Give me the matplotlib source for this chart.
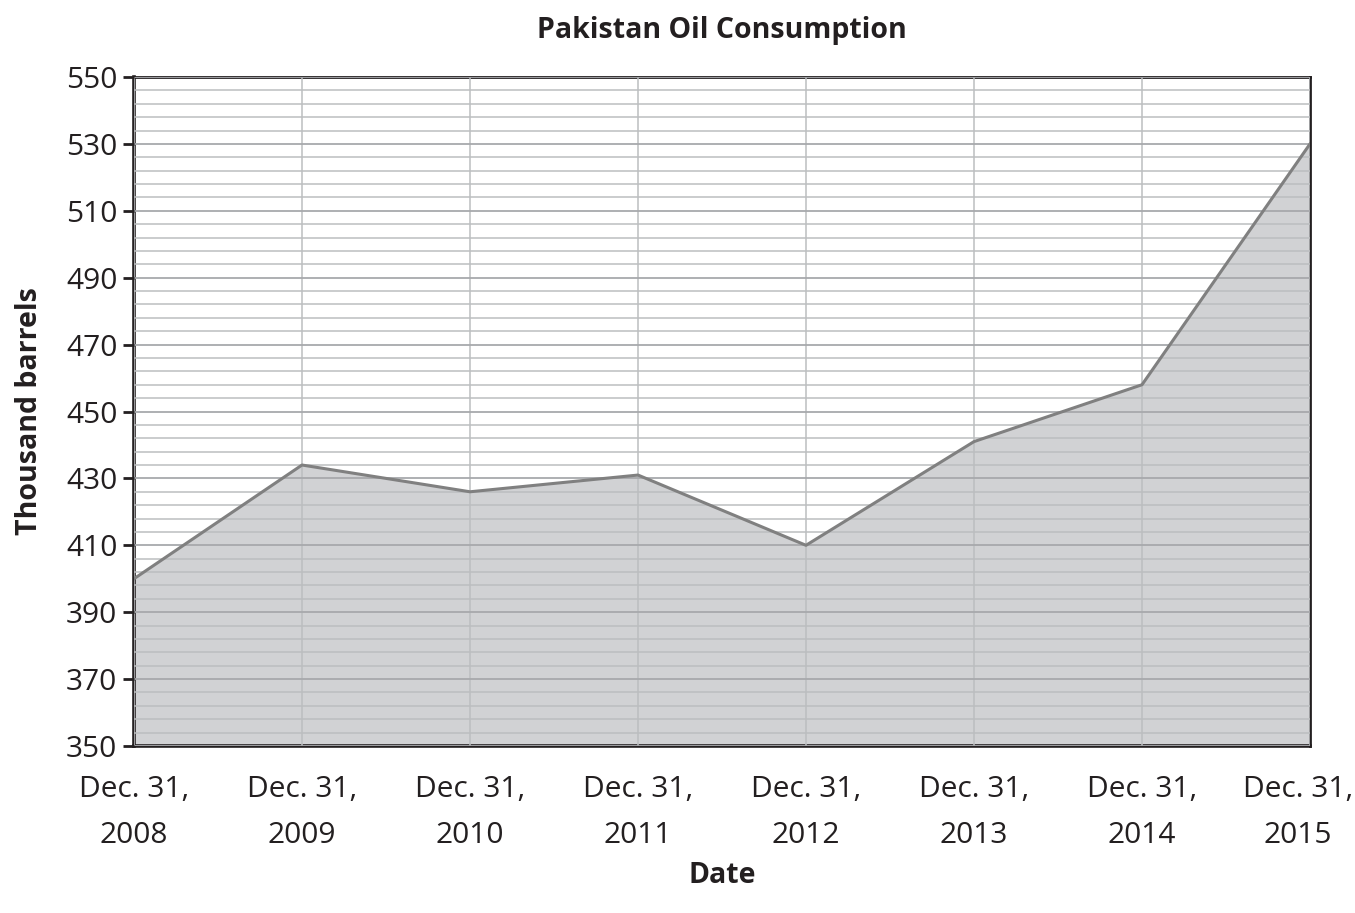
import matplotlib
matplotlib.use("Agg")
import matplotlib.pyplot as plt
import matplotlib.transforms as mtransforms
from matplotlib.ticker import FixedLocator

dates = ["Dec. 31,\n2008", "Dec. 31,\n2009", "Dec. 31,\n2010", "Dec. 31,\n2011",
         "Dec. 31,\n2012", "Dec. 31,\n2013", "Dec. 31,\n2014", "Dec. 31,\n2015"]
consumption = [400, 434, 426, 431, 410, 441, 458, 530]
y_major = list(range(350, 551, 20))
y_minor = list(range(350, 551, 4))

plt.rcParams['font.family'] = ['Open Sans', 'DejaVu Sans']

fig = plt.figure(figsize=(13.55, 9.13), dpi=100)
ax = fig.add_axes([134/1355, 1-746/913, (1310-134)/1355, (746-77)/913])

x = list(range(len(dates)))
ax.fill_between(x, consumption, 350, color='#d1d2d4', zorder=1, linewidth=0)
ax.plot(x, consumption, color='#808080', linewidth=2.2, zorder=3)

ax.set_xlim(0, len(dates)-1)
ax.set_ylim(350, 550)
ax.yaxis.set_major_locator(FixedLocator(y_major))
ax.yaxis.set_minor_locator(FixedLocator(y_minor))
ax.set_xticks(x)
ax.set_xticklabels(dates, fontsize=21.5, color='#231f20', linespacing=1.75)
ax.tick_params(axis='x', length=0, pad=21)
ax.tick_params(axis='y', which='major', length=8, width=2, direction='out',
               labelsize=21.5, colors='#231f20', pad=4)
ax.tick_params(axis='y', which='minor', length=0)

# shift last x label slightly left so it stays inside the figure
last = ax.get_xticklabels()[-1]
last.set_transform(last.get_transform() +
                   mtransforms.ScaledTranslation(-12/100, 0, fig.dpi_scale_trans))

ax.grid(True, which='major', axis='y', color='#a7a9ac', linewidth=1.3, zorder=2)
ax.grid(True, which='minor', axis='y', color='#bcbec0', linewidth=1.1, zorder=2)
ax.grid(True, which='major', axis='x', color='#bcbec0', linewidth=1.1, zorder=2)
ax.set_axisbelow(False)
for gl in ax.get_ygridlines() + ax.get_xgridlines():
    gl.set_zorder(2)

for side in ['left', 'bottom']:
    ax.spines[side].set_linewidth(2.6)
    ax.spines[side].set_color('#231f20')
for side in ['top', 'right']:
    ax.spines[side].set_linewidth(2.0)
    ax.spines[side].set_color('#231f20')

ax.set_title("Pakistan Oil Consumption", fontsize=20.5, fontweight='bold',
             color='#231f20', pad=28)
ax.set_xlabel("Date", fontsize=20.5, fontweight='bold', color='#231f20', labelpad=8)
ax.set_ylabel("Thousand barrels", fontsize=20.5, fontweight='bold', color='#231f20', labelpad=16)

fig.savefig("out.png", dpi=100)
